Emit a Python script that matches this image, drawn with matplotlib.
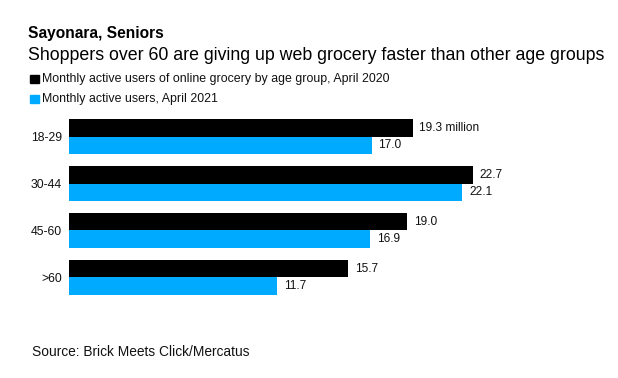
import matplotlib
matplotlib.use("Agg")
import matplotlib.pyplot as plt
import numpy as np
from matplotlib.patches import Rectangle

plt.rcParams['font.family'] = ['Liberation Sans', 'DejaVu Sans']

categories = ["18-29", "30-44", "45-60", ">60"]
values_2020 = [19.3, 22.7, 19.0, 15.7]
values_2021 = [17.0, 22.1, 16.9, 11.7]
labels_2020 = ["19.3 million", "22.7", "19.0", "15.7"]
labels_2021 = ["17.0", "22.1", "16.9", "11.7"]
series_names = ["Monthly active users of online grocery by age group, April 2020",
                "Monthly active users, April 2021"]
title = "Sayonara, Seniors"
subtitle = "Shoppers over 60 are giving up web grocery faster than other age groups"
source = "Source: Brick Meets Click/Mercatus"

BLACK = "#000000"
BLUE = "#00AAFF"

W, H = 618, 378
fig = plt.figure(figsize=(W / 100, H / 100), dpi=100)

def fx(px):
    return px / W

def fy(py):
    return 1 - py / H

# axes: left 69px, right 603px, top 113.2px, bottom 300.8px
ax = fig.add_axes([fx(69), fy(300.8), (603 - 69) / W, (300.8 - 113.2) / H])
y = np.arange(len(categories))
h = 0.377
ax.barh(y - h / 2, values_2020, height=h, color=BLACK)
ax.barh(y + h / 2, values_2021, height=h, color=BLUE)
ax.set_xlim(0, 30)
ax.set_ylim(3.5, -0.5)
for i in range(len(categories)):
    ax.text(values_2020[i] + 0.38, y[i] - h / 2, labels_2020[i], va='center', ha='left',
            fontsize=8.6, color='#111111')
    ax.text(values_2021[i] + 0.38, y[i] + h / 2, labels_2021[i], va='center', ha='left',
            fontsize=8.6, color='#111111')
ax.set_yticks(y)
ax.set_yticklabels(categories, fontsize=8.8, color='#111111')
ax.tick_params(axis='y', length=0, pad=5)
ax.set_xticks([])
for s in ax.spines.values():
    s.set_visible(False)

fig.text(fx(28), fy(38), title, fontsize=11.2, fontweight='bold', ha='left', va='baseline')
fig.text(fx(28), fy(60), subtitle, fontsize=12.8, ha='left', va='baseline')

# legend
for k, (name, col) in enumerate(zip(series_names, [BLACK, BLUE])):
    cy = 79 + 20 * k
    fig.patches.append(Rectangle((fx(30), fy(cy + 4.3)), 8.6 / W, 8.6 / H, color=col,
                                 transform=fig.transFigure, figure=fig))
    fig.text(fx(42), fy(cy), name, fontsize=8.95, ha='left', va='center', color='#111111')

fig.text(fx(32), fy(352.5), source, fontsize=9.9, ha='left', va='center', color='#111111')

fig.savefig("out.png", dpi=100, facecolor='white')
